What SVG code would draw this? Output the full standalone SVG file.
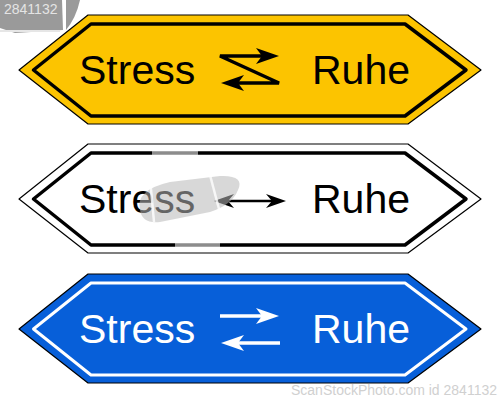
<svg xmlns="http://www.w3.org/2000/svg" width="500" height="400" viewBox="0 0 500 400">
  <defs>
    <path id="outer" d="M19,70 L88,15 L408,15 L481,70 L408,124 L88,124 Z"/>
    <path id="inner" d="M33.5,70 L91,24 L405,24 L466,70 L405,116 L91,116 Z"/>
    <path id="head" d="M0,0 L-23,-8 L-17,0 L-23,8 Z"/>
    <path id="headS" d="M0,0 L-20,-7 L-14,0 L-20,7 Z"/>
  </defs>
  <style>
    .lbl { font-family: "Liberation Sans", Arial, sans-serif; font-size: 41px; }
    .wm { font-family: "Liberation Sans", Arial, sans-serif; }
  </style>
  <rect width="500" height="400" fill="#ffffff"/>

  <!-- watermark top-left -->
  <g id="wm-top">
    <path d="M0,0 H62 L63,30 L15,33 L0,28 Z" fill="#9a9a9a"/>
    <path d="M66,0 H80 Q76,18 66,30 Z" fill="#9a9a9a"/>
    <line x1="0" y1="31" x2="60" y2="31" stroke="#e6e6e6" stroke-width="2"/>
    <text class="wm" x="4" y="14" font-size="14" fill="#e4e4e4">2841132</text>
  </g>

  <!-- Sign 1: yellow -->
  <g id="sign-yellow">
    <use href="#outer" fill="#FCC400" stroke="#000" stroke-width="1.2" stroke-linejoin="round"/>
    <use href="#inner" fill="none" stroke="#000" stroke-width="3.5" stroke-linejoin="round"/>
    <text class="lbl" x="79" y="84" fill="#000">Stress</text>
    <text class="lbl" x="312" y="84" fill="#000">Ruhe</text>
    <path d="M264,56 H220 L279,83 H236" fill="none" stroke="#000" stroke-width="3.5" stroke-linejoin="miter"/>
    <use href="#head" transform="translate(279,56)" fill="#000"/>
    <use href="#head" transform="translate(221,83) rotate(180)" fill="#000"/>
  </g>

  <!-- Sign 2: white -->
  <g id="sign-white" transform="translate(0,129)">
    <use href="#outer" fill="#ffffff" stroke="#000" stroke-width="1.2" stroke-linejoin="round"/>
    <use href="#inner" fill="none" stroke="#000" stroke-width="3.5" stroke-linejoin="round"/>
    <text class="lbl" x="79" y="84" fill="#000">Stress</text>
    <text class="lbl" x="312" y="84" fill="#000">Ruhe</text>
    <line x1="226" y1="72" x2="274" y2="72" stroke="#000" stroke-width="2.5"/>
    <use href="#headS" transform="translate(286,72)" fill="#000"/>
    <use href="#headS" transform="translate(214,72) rotate(180)" fill="#000"/>
  </g>

  <!-- watermark logo over sign 2 -->
  <g id="wm-logo">
    <path d="M140,210 Q135,190 170,182 L220,176 Q245,175 238,190 Q232,205 210,212 L160,222 Q142,224 140,210 Z" fill="#b8b8b8" opacity="0.55"/>
    <line x1="150" y1="178" x2="154" y2="222" stroke="#fff" stroke-width="2.5" opacity="0.8"/>
    <line x1="210" y1="175" x2="224" y2="228" stroke="#fff" stroke-width="2.5" opacity="0.8"/>
    <rect x="152" y="150" width="46" height="6" fill="#fff" opacity="0.55"/>
    <rect x="175" y="243" width="45" height="6" fill="#fff" opacity="0.55"/>
  </g>

  <!-- Sign 3: blue -->
  <g id="sign-blue" transform="translate(0,259)">
    <use href="#outer" fill="#075FD9" stroke="#000" stroke-width="1.2" stroke-linejoin="round"/>
    <use href="#inner" fill="none" stroke="#fff" stroke-width="3" stroke-linejoin="round"/>
    <text class="lbl" x="79" y="84" fill="#fff">Stress</text>
    <text class="lbl" x="312" y="84" fill="#fff">Ruhe</text>
    <line x1="220" y1="57" x2="264" y2="57" stroke="#fff" stroke-width="3.5"/>
    <use href="#head" transform="translate(279,57)" fill="#fff"/>
    <line x1="280" y1="84" x2="236" y2="84" stroke="#fff" stroke-width="3.5"/>
    <use href="#head" transform="translate(221,84) rotate(180)" fill="#fff"/>
  </g>

  <!-- watermark bottom -->
  <text class="wm" x="497" y="395" font-size="14" fill="#d0d0d0" text-anchor="end">ScanStockPhoto.com id 2841132</text>
</svg>
